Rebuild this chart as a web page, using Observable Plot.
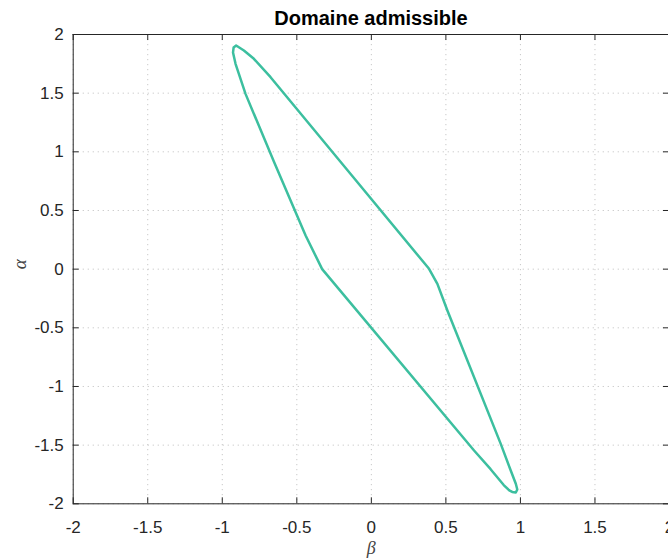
<!DOCTYPE html>
<html><head><meta charset="utf-8">
<script src="https://cdn.jsdelivr.net/npm/d3@7"></script>
<script src="https://cdn.jsdelivr.net/npm/@observablehq/plot@0.6"></script>
<style>
body{margin:0;background:#fff;overflow:hidden;width:668px;height:559px}
#title{height:26px;font:bold 20px "Liberation Sans",Arial,sans-serif;line-height:36px;text-align:center;width:596px;margin-left:73px;color:#000;white-space:nowrap}
#chart svg{display:block}
</style></head><body>
<div id="title">Domaine admissible</div>
<div id="chart"></div>
<script>
const beta = [-0.33, -0.441, -0.654, -0.844, -0.911, -0.928, -0.924, -0.907,
  -0.855, -0.788, -0.676, -0.139, 0.387,
  0.443, 0.510, 0.868, 0.935, 0.969, 0.979, 0.969, 0.945,
  0.925, 0.888, 0.80, 0.689, -0.33];
const alpha = [0.0, 0.287, 0.917, 1.494, 1.750, 1.846, 1.889, 1.906,
  1.864, 1.793, 1.636, 0.811, 0.003,
  -0.125, -0.352, -1.489, -1.716, -1.829, -1.878, -1.904, -1.899,
  -1.885, -1.84, -1.705, -1.546, 0.0];
const xTicks = [-2, -1.5, -1, -0.5, 0, 0.5, 1, 1.5, 2];
const yTicks = [-2, -1.5, -1, -0.5, 0, 0.5, 1, 1.5, 2];
const xLabel = "β";
const yLabel = "α";

const data = beta.map((b, i) => ({beta: b, alpha: alpha[i]}));
const W = 668, H = 533, mL = 72.7, mR = -1, mT = 8, mB = 55.7;
const innerW = W - mL - mR, innerH = H - mT - mB;
const tk = 6;
const axisColor = "#262626";
const gridStyle = {stroke: "#c8c8c8", strokeOpacity: 1, strokeDasharray: "1.2,3.8", strokeWidth: 1};
const fmt = d => String(d);

const plot = Plot.plot({
  width: W, height: H,
  marginLeft: mL, marginRight: mR, marginTop: mT, marginBottom: mB,
  style: {fontFamily: '"Liberation Sans", Arial, sans-serif', fontSize: "17px", color: axisColor, background: "#fff"},
  x: {domain: [-2, 2]},
  y: {domain: [-2, 2]},
  marks: [
    Plot.gridX(xTicks, gridStyle),
    Plot.gridY(yTicks, gridStyle),
    Plot.tickX(xTicks, {x: d => d, insetTop: innerH - tk, stroke: axisColor}),
    Plot.tickX(xTicks, {x: d => d, insetBottom: innerH - tk, stroke: axisColor}),
    Plot.tickY(yTicks, {y: d => d, insetRight: innerW - tk, stroke: axisColor}),
    Plot.tickY(yTicks, {y: d => d, insetLeft: innerW - tk, stroke: axisColor}),
    Plot.axisX(xTicks, {tickSize: 0, tickPadding: 17, tickFormat: fmt, label: null, fill: axisColor}),
    Plot.axisY(yTicks, {tickSize: 0, tickPadding: 9.5, tickFormat: fmt, label: null, fill: axisColor}),
    Plot.frame({stroke: axisColor}),
    Plot.line(data, {x: "beta", y: "alpha", stroke: "#3cbf9f", strokeWidth: 2.5, strokeLinejoin: "round"}),
    Plot.text([xLabel], {text: d => d, frameAnchor: "bottom", dy: 50, fontStyle: "italic", fontFamily: '"Liberation Serif", serif', fontSize: 18, fill: "#444"}),
    Plot.text([yLabel], {text: d => d, frameAnchor: "left", dx: -53, rotate: -90, fontStyle: "italic", fontFamily: '"Liberation Serif", serif', fontSize: 19, fill: "#444"})
  ]
});
document.getElementById("chart").appendChild(plot);
</script>
</body></html>
